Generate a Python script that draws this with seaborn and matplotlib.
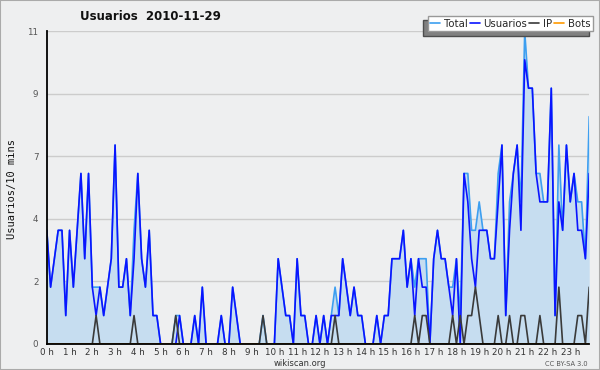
import numpy as np
import pandas as pd
import matplotlib
matplotlib.use("Agg")
import matplotlib.pyplot as plt
import seaborn as sns
from matplotlib.lines import Line2D
from matplotlib.patches import Rectangle

# ---- data (10-minute slots, 144 per day) ----
total = [4, 2, 3, 4, 4, 1, 4, 2, 4, 6,
         3, 6, 2, 2, 2, 1, 2, 3, 7, 2,
         2, 3, 1, 4, 6, 3, 2, 4, 1, 1,
         0, 0, 0, 0, 1, 1, 0, 0, 0, 1,
         0, 2, 0, 0, 0, 0, 1, 0, 0, 2,
         1, 0, 0, 0, 0, 0, 0, 1, 0, 0,
         0, 3, 2, 1, 1, 0, 3, 1, 1, 0,
         0, 1, 0, 1, 0, 1, 2, 1, 3, 2,
         1, 2, 1, 1, 0, 0, 0, 1, 0, 1,
         1, 3, 3, 3, 4, 2, 3, 2, 3, 3,
         3, 0, 3, 4, 3, 3, 2, 2, 3, 1,
         6, 6, 4, 4, 5, 4, 4, 3, 3, 6,
         7, 1, 5, 6, 7, 5, 11, 9, 9, 6,
         6, 5, 5, 9, 1, 7, 4, 7, 5, 6,
         5, 5, 3, 8]

usuarios = [4, 2, 3, 4, 4, 1, 4, 2, 4, 6,
            3, 6, 2, 1, 2, 1, 2, 3, 7, 2,
            2, 3, 1, 3, 6, 3, 2, 4, 1, 1,
            0, 0, 0, 0, 0, 1, 0, 0, 0, 1,
            0, 2, 0, 0, 0, 0, 1, 0, 0, 2,
            1, 0, 0, 0, 0, 0, 0, 0, 0, 0,
            0, 3, 2, 1, 1, 0, 3, 1, 1, 0,
            0, 1, 0, 1, 0, 1, 1, 1, 3, 2,
            1, 2, 1, 1, 0, 0, 0, 1, 0, 1,
            1, 3, 3, 3, 4, 2, 3, 1, 3, 2,
            2, 0, 3, 4, 3, 3, 2, 1, 3, 0,
            6, 5, 3, 2, 4, 4, 4, 3, 3, 5,
            7, 1, 4, 6, 7, 4, 10, 9, 9, 6,
            5, 5, 5, 9, 1, 5, 4, 7, 5, 6,
            4, 4, 3, 6]

ip = [0, 0, 0, 0, 0, 0, 0, 0, 0, 0,
      0, 0, 0, 1, 0, 0, 0, 0, 0, 0,
      0, 0, 0, 1, 0, 0, 0, 0, 0, 0,
      0, 0, 0, 0, 1, 0, 0, 0, 0, 0,
      0, 0, 0, 0, 0, 0, 0, 0, 0, 0,
      0, 0, 0, 0, 0, 0, 0, 1, 0, 0,
      0, 0, 0, 0, 0, 0, 0, 0, 0, 0,
      0, 0, 0, 0, 0, 0, 1, 0, 0, 0,
      0, 0, 0, 0, 0, 0, 0, 0, 0, 0,
      0, 0, 0, 0, 0, 0, 0, 1, 0, 1,
      1, 0, 0, 0, 0, 0, 0, 1, 0, 1,
      0, 1, 1, 2, 1, 0, 0, 0, 0, 1,
      0, 0, 1, 0, 0, 1, 1, 0, 0, 0,
      1, 0, 0, 0, 0, 2, 0, 0, 0, 0,
      1, 1, 0, 2]

bots = [0] * 144

series_names = ["Total", "Usuarios", "IP", "Bots"]
hour_labels = [f"{h} h" for h in range(24)]
y_tick_values = [0, 2.2, 4.4, 6.6, 8.8, 11]
y_tick_labels = ["0", "2", "4", "7", "9", "11"]

# ---- style ----
sns.set_style("white")
plt.rcParams['font.family'] = ['DejaVu Sans']

bg = '#eeeff0'
fig = plt.figure(figsize=(6, 3.7), dpi=100, facecolor=bg)
fig.patches.append(Rectangle((0, 0), 1, 1, transform=fig.transFigure, fill=False,
                             edgecolor='#aaaaaa', linewidth=1.5, zorder=10))
ax = fig.add_axes([0.078, 0.0703, 0.904, 0.845])
ax.set_facecolor(bg)

df = pd.DataFrame({'slot': np.arange(len(total)), 'Total': total,
                   'Usuarios': usuarios, 'IP': ip, 'Bots': bots})
long = df.melt('slot', var_name='serie', value_name='n')

palette = {'Total': '#3d9ff0', 'Usuarios': '#0a14ff', 'IP': '#3a3a3a', 'Bots': '#ff9900'}

ax.fill_between(df['slot'], df['Total'], color='#c6ddf0', zorder=1, linewidth=0)
sns.lineplot(data=long, x='slot', y='n', hue='serie', hue_order=series_names,
             palette=palette, linewidth=1.2, ax=ax, legend=False, zorder=2)

ax.set_xlim(0, len(total) - 1)
ax.set_ylim(0, 11)
ax.set_xlabel('')
ax.set_ylabel('')

ax.set_xticks(range(0, 144, 6))
ax.set_xticklabels(hour_labels, fontsize=6.3, color='#333333')
ax.set_xticks(range(0, 144), minor=True)
ax.set_yticks(y_tick_values)
ax.set_yticklabels(y_tick_labels, fontsize=6.3, color='#555555')
ax.set_yticks([1.1 * k for k in range(11)], minor=True)
ax.tick_params(axis='x', which='both', direction='out', length=2.5, width=0.8,
               color='black', pad=0.5)
ax.tick_params(axis='y', which='major', direction='out', length=5, width=0.8,
               color='black', pad=1)
ax.tick_params(axis='y', which='minor', direction='out', length=3, width=0.8,
               color='black')

ax.yaxis.grid(True, color='#cccccc', linewidth=1)
ax.xaxis.grid(False)
ax.set_axisbelow(True)
for s in ['top', 'right']:
    ax.spines[s].set_visible(False)
for s in ['left', 'bottom']:
    ax.spines[s].set_color('black')
    ax.spines[s].set_linewidth(1.3)
    ax.spines[s].set_zorder(5)

# ---- legend ----
handles = [Line2D([], [], color=palette[k], lw=1.2) for k in series_names]
leg_kw = dict(loc='upper right', bbox_to_anchor=(0.988, 0.956),
              bbox_transform=fig.transFigure, ncol=4, fontsize=7.3,
              frameon=True, fancybox=False, edgecolor='#999999',
              handlelength=1.0, handletextpad=0.35, columnspacing=0.2,
              borderpad=0.25, borderaxespad=0)
try:
    leg = ax.legend(handles, series_names,
                    shadow={'ox': -3, 'oy': -3, 'facecolor': '#808080', 'alpha': 1},
                    **leg_kw)
except Exception:
    leg = ax.legend(handles, series_names, shadow=True, **leg_kw)
leg.get_frame().set_facecolor('white')
leg.get_frame().set_alpha(1)
leg.set_zorder(20)

# ---- texts ----
fig.text(0.25, 0.955, "Usuarios  2010-11-29", ha='center', va='center',
         fontsize=8.5, fontweight='bold', color='#111111')
fig.text(0.02, 0.49, "Usuarios/10 mins", rotation=90, ha='center', va='center',
         fontsize=7.5, family='DejaVu Sans Mono', color='#111111')
fig.text(0.5, 0.017, "wikiscan.org", ha='center', va='center', fontsize=6,
         color='#333333')
fig.text(0.98, 0.017, "CC BY-SA 3.0", ha='right', va='center', fontsize=4.8,
         color='#555555')

fig.savefig('out.png', dpi=100, facecolor=bg)
